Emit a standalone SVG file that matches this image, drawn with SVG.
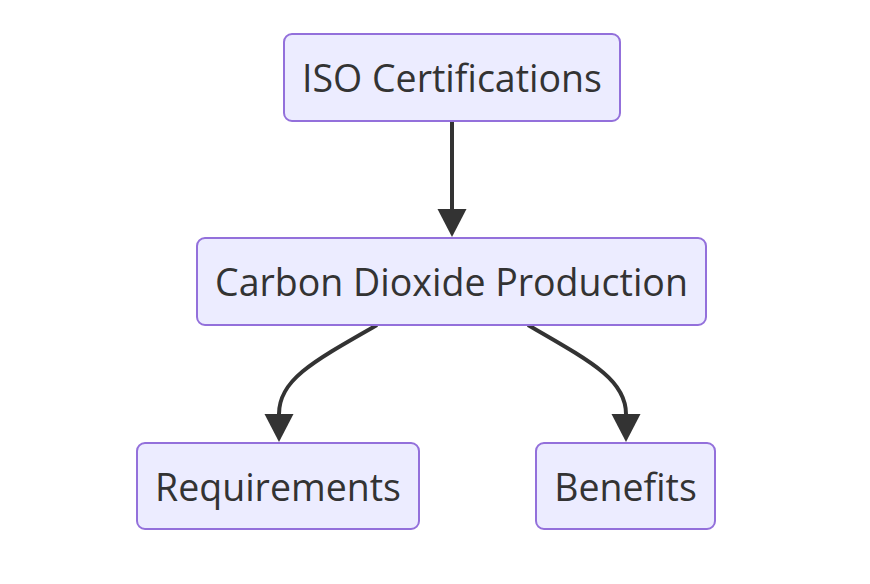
<svg xmlns="http://www.w3.org/2000/svg" width="870" height="584" viewBox="0 0 870 584">
<style>
.node rect{fill:#ECECFF;stroke:#9370DB;stroke-width:2}
.node text{font-family:"Open Sans","Noto Sans","DejaVu Sans",sans-serif;font-size:37.5px;fill:#333333;text-anchor:middle;dominant-baseline:central}
.edge{fill:none;stroke:#333333;stroke-width:4}
</style>
<defs>
<marker id="arrow" markerUnits="userSpaceOnUse" markerWidth="30" markerHeight="30" viewBox="0 0 30 30" refX="0" refY="15" orient="auto">
<path d="M0,0.5 L28,15 L0,29.5 Z" fill="#333333"/>
</marker>
</defs>
<rect width="870" height="584" fill="#ffffff"/>
<g id="connectors">
<path class="edge" d="M452,121 L452,209" marker-end="url(#arrow)"/>
<path class="edge" d="M377,325 C312,362 279,380 279,414" marker-end="url(#arrow)"/>
<path class="edge" d="M528,325 C592,362 626,380 626,414" marker-end="url(#arrow)"/>
</g>
<g id="node-iso" class="node">
<rect x="284" y="34" width="336" height="87" rx="8"/>
<text x="452" y="77">ISO Certifications</text>
</g>
<g id="node-co2" class="node">
<rect x="197" y="238" width="509" height="87" rx="8"/>
<text x="451.5" y="281.5">Carbon Dioxide Production</text>
</g>
<g id="node-req" class="node">
<rect x="137" y="443" width="282" height="86" rx="8"/>
<text x="278" y="486">Requirements</text>
</g>
<g id="node-ben" class="node">
<rect x="536" y="443" width="179" height="86" rx="8"/>
<text x="625.5" y="486">Benefits</text>
</g>
</svg>
